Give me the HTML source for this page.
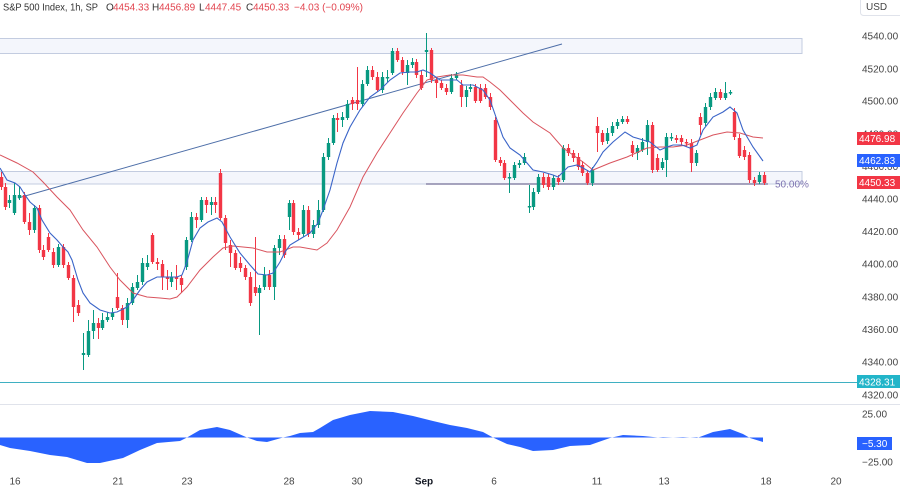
<!DOCTYPE html>
<html><head><meta charset="utf-8"><style>
html,body{margin:0;padding:0;background:#fff;}
svg{display:block;font-family:"Liberation Sans",sans-serif;}
</style></head><body>
<svg width="900" height="488" viewBox="0 0 900 488" xmlns="http://www.w3.org/2000/svg">
<rect width="900" height="488" fill="#fff"/>
<!-- zones -->
<rect x="-2" y="38.5" width="804" height="15" fill="#f4f6fc" stroke="#c3cce0" stroke-width="1"/>
<rect x="-2" y="171.5" width="804" height="12.5" fill="#f4f6fc" stroke="#c3cce0" stroke-width="1"/>
<line x1="426" y1="184" x2="768" y2="184" stroke="#8a86a8" stroke-width="1.6"/>
<text x="775" y="187.5" font-size="10" fill="#7e74b0">50.00%</text>
<!-- teal line -->
<line x1="0" y1="382.5" x2="857" y2="382.5" stroke="#3fb0c2" stroke-width="1"/>
<!-- trendline -->
<line x1="18" y1="198" x2="562" y2="44" stroke="#4d6ea8" stroke-width="1"/>
<!-- candles -->
<g transform="translate(0.5,0)">
<path fill="none" stroke="#f23645" stroke-width="1" d="M1 172V190M5 183V210M24 192V224M29 213V235M39 205V253M43 245V260M48 233V252M53 248V268M63 244V268M68 262V280M73 275V322M78 300V316M98 318V339M117 273V310M122 305V325M152 233V264M157 258V270M162 260V290M167 270V290M176 265V290M181 275V293M196 213V228M206 197V213M215 197V213M220 169V220M225 215V250M230 240V267M235 250V270M240 257V272M245 265V280M250 272V306M255 237V296M269 270V290M284 235V258M293 200V235M298 228V240M308 206V237M337 113V132M352 97V110M357 67V110M372 66V80M377 72V92M397 48V62M402 57V75M416 59V78M421 70V90M431 48V83M436 77V98M441 80V90M446 84V95M461 80V107M475 84V103M480 84V103M485 84V99M490 93V110M495 117V162M500 157V166M504 160V180M543 173V188M548 174V190M558 175V185M568 144V156M573 150V162M578 153V170M582 161V176M587 170V185M597 117V152M602 130V145M627 116V124M632 141V157M652 122V173M657 154V172M676 135V143M681 135V145M686 139V147M691 139V172M700 113V135M720 89V100M734 108V140M739 134V158M744 146V160M749 152V183M754 177V186M764 172V185"/>
<path fill="#f23645" d="M-0.7 177h3.4V187h-3.4zM3.3 187h3.4V207h-3.4zM22.3 195h3.4V222h-3.4zM27.3 222h3.4V230h-3.4zM37.3 208h3.4V250h-3.4zM41.3 250h3.4V257h-3.4zM46.3 237h3.4V250h-3.4zM51.3 252h3.4V265h-3.4zM61.3 247h3.4V265h-3.4zM66.3 265h3.4V278h-3.4zM71.3 278h3.4V307h-3.4zM76.3 305h3.4V313h-3.4zM96.3 323h3.4V328h-3.4zM115.3 297h3.4V308h-3.4zM120.3 308h3.4V320h-3.4zM150.3 235h3.4V262h-3.4zM155.3 262h3.4V264h-3.4zM160.3 264h3.4V277h-3.4zM165.3 277h3.4V279h-3.4zM174.3 277h3.4V279h-3.4zM179.3 278h3.4V285h-3.4zM194.3 217h3.4V220h-3.4zM204.3 200h3.4V205h-3.4zM213.3 202h3.4V205h-3.4zM218.3 173h3.4V218h-3.4zM223.3 218h3.4V243h-3.4zM228.3 245h3.4V253h-3.4zM233.3 253h3.4V268h-3.4zM238.3 263h3.4V268h-3.4zM243.3 268h3.4V277h-3.4zM248.3 277h3.4V303h-3.4zM253.3 287h3.4V293h-3.4zM267.3 275h3.4V287h-3.4zM282.3 239h3.4V255h-3.4zM291.3 203h3.4V232h-3.4zM296.3 232h3.4V235h-3.4zM306.3 210h3.4V234h-3.4zM335.3 118h3.4V120h-3.4zM350.3 100h3.4V104h-3.4zM355.3 100h3.4V104h-3.4zM370.3 70h3.4V77h-3.4zM375.3 77h3.4V90h-3.4zM395.3 51h3.4V60h-3.4zM400.3 60h3.4V72h-3.4zM414.3 62h3.4V75h-3.4zM419.3 75h3.4V88h-3.4zM429.3 50h3.4V80h-3.4zM434.3 80h3.4V83h-3.4zM439.3 83h3.4V88h-3.4zM444.3 88h3.4V92h-3.4zM459.3 85h3.4V97h-3.4zM473.3 87h3.4V101h-3.4zM478.3 88h3.4V101h-3.4zM483.3 88h3.4V97h-3.4zM488.3 97h3.4V107h-3.4zM493.3 120h3.4V160h-3.4zM498.3 160h3.4V163h-3.4zM502.3 163h3.4V178h-3.4zM541.3 177h3.4V185h-3.4zM546.3 177h3.4V187h-3.4zM556.3 178h3.4V182h-3.4zM566.3 148h3.4V153h-3.4zM571.3 153h3.4V158h-3.4zM576.3 157h3.4V167h-3.4zM580.3 165h3.4V173h-3.4zM585.3 173h3.4V183h-3.4zM595.3 126h3.4V133h-3.4zM600.3 133h3.4V142h-3.4zM625.3 119h3.4V122h-3.4zM630.3 145h3.4V153h-3.4zM650.3 125h3.4V170h-3.4zM655.3 158h3.4V170h-3.4zM674.3 138h3.4V140h-3.4zM679.3 138h3.4V142h-3.4zM684.3 142h3.4V143.5h-3.4zM689.3 143h3.4V163h-3.4zM698.3 117h3.4V125h-3.4zM718.3 92h3.4V98h-3.4zM732.3 112h3.4V137h-3.4zM737.3 138h3.4V156h-3.4zM742.3 150h3.4V157h-3.4zM747.3 155h3.4V180h-3.4zM752.3 180h3.4V183h-3.4zM762.3 175h3.4V183h-3.4z"/>
<path fill="none" stroke="#089981" stroke-width="1" d="M9 195V208M14 183V215M19 186V200M34 205V233M58 244V267M83 333V370M88 320V357M93 310V339M102 313V330M107 312V322M112 308V320M127 298V328M132 283V305M137 275V290M142 258V285M147 255V270M171 272V287M186 237V270M191 212V242M201 197V222M211 197V215M259 285V335M264 267V290M274 245V300M279 235V255M289 200V230M303 205V237M313 220V238M318 200V228M323 153V212M328 138V160M333 115V145M342 112V127M347 100V120M362 80V107M367 66V86M382 72V93M387 70V82M392 48V75M407 60V85M412 58V68M426 33V77M451 74V94M456 72V80M466 86V107M470 84V92M509 173V193M514 162V180M519 160V168M524 153V165M529 185V213M533 188V210M538 174V194M553 175V190M563 145V182M592 167V186M607 128V144M612 122V136M617 119V129M622 116V124M637 145V160M642 138V152M647 120V155M662 158V170M666 133V177M671 133V141M696 150V166M705 103V126M710 93V110M715 88V100M725 82V100M730 90V95M759 172V184"/>
<path fill="#089981" d="M7.3 200h3.4V203h-3.4zM12.3 195h3.4V213h-3.4zM17.3 195h3.4V198h-3.4zM32.3 208h3.4V230h-3.4zM56.3 247h3.4V265h-3.4zM81.3 353h3.4V355h-3.4zM86.3 331h3.4V355h-3.4zM91.3 323h3.4V331h-3.4zM100.3 320h3.4V328h-3.4zM105.3 317h3.4V320h-3.4zM110.3 313h3.4V317h-3.4zM125.3 303h3.4V320h-3.4zM130.3 287h3.4V303h-3.4zM135.3 282h3.4V288h-3.4zM140.3 263h3.4V282h-3.4zM145.3 263h3.4V267h-3.4zM169.3 277h3.4V282h-3.4zM184.3 240h3.4V267h-3.4zM189.3 217h3.4V240h-3.4zM199.3 200h3.4V220h-3.4zM209.3 202h3.4V205h-3.4zM257.3 288h3.4V293h-3.4zM262.3 275h3.4V287h-3.4zM272.3 248h3.4V287h-3.4zM277.3 239h3.4V248h-3.4zM287.3 203h3.4V217h-3.4zM301.3 210h3.4V234h-3.4zM311.3 225h3.4V234h-3.4zM316.3 210h3.4V225h-3.4zM321.3 157h3.4V210h-3.4zM326.3 143h3.4V157h-3.4zM331.3 118h3.4V143h-3.4zM340.3 117h3.4V120h-3.4zM345.3 104h3.4V118h-3.4zM360.3 84h3.4V104h-3.4zM365.3 70h3.4V84h-3.4zM380.3 77h3.4V90h-3.4zM385.3 77h3.4V78.5h-3.4zM390.3 51h3.4V73h-3.4zM405.3 65h3.4V73h-3.4zM410.3 62h3.4V65h-3.4zM424.3 50h3.4V52h-3.4zM449.3 78h3.4V92h-3.4zM454.3 75h3.4V78h-3.4zM464.3 90h3.4V97h-3.4zM468.3 87h3.4V89h-3.4zM507.3 177h3.4V178.5h-3.4zM512.3 165h3.4V178h-3.4zM517.3 163h3.4V165h-3.4zM522.3 157h3.4V163h-3.4zM527.3 206h3.4V207.5h-3.4zM531.3 192h3.4V207h-3.4zM536.3 177h3.4V192h-3.4zM551.3 178h3.4V187h-3.4zM561.3 148h3.4V180h-3.4zM590.3 170h3.4V183h-3.4zM605.3 133h3.4V141h-3.4zM610.3 126h3.4V133h-3.4zM615.3 122h3.4V126h-3.4zM620.3 119h3.4V122h-3.4zM635.3 148h3.4V153h-3.4zM640.3 142h3.4V150h-3.4zM645.3 125h3.4V142h-3.4zM660.3 162h3.4V168h-3.4zM664.3 137h3.4V160h-3.4zM669.3 137h3.4V138.5h-3.4zM694.3 153h3.4V163h-3.4zM703.3 107h3.4V123h-3.4zM708.3 97h3.4V107h-3.4zM713.3 92h3.4V98h-3.4zM723.3 93h3.4V98h-3.4zM728.3 92h3.4V93.5h-3.4zM757.3 175h3.4V182h-3.4z"/>
</g>
<!-- moving averages -->
<polyline fill="none" stroke="#d9545e" stroke-width="1" points="0,155 17,163 33,172 43,182 57,197 70,210 83,230 97,247 110,267 120,280 133,293 147,297 160,298 170,299 177,297 187,287 200,270 213,257 223,248 233,246 253,248 267,252 280,252 293,247 300,247 317,250 327,243 337,230 350,207 363,177 377,153 390,133 403,113 417,93 427,80 437,77 450,75 463,75 477,77 483,77 490,82 500,90 513,103 523,113 533,122 550,133 563,148 573,155 583,162 593,170 610,163 627,157 647,148 660,147 673,147 687,145 700,140 713,135 727,132 740,133 753,137 763,138"/>
<polyline fill="none" stroke="#3a64c8" stroke-width="1.1" points="0,168 7,180 15,183 20,187 25,195 30,202 37,208 42,220 50,233 57,240 63,247 68,252 72,260 78,280 83,293 90,303 100,310 110,313 117,312 127,307 133,300 140,290 147,282 157,277 167,277 177,277 182,275 187,262 193,240 200,228 208,222 217,218 222,222 230,237 240,253 250,265 258,274 267,275 273,273 280,262 285,252 290,245 300,239 310,233 318,223 323,210 330,190 337,163 343,143 350,127 360,110 370,97 380,90 390,80 400,73 410,72 417,72 423,70 430,73 440,80 450,80 457,80 463,85 473,85 483,90 490,100 497,120 503,137 510,148 520,155 527,163 533,170 543,172 553,175 558,177 563,172 568,167 577,165 583,168 590,172 597,162 603,152 613,142 625,132 633,137 643,140 650,142 660,150 667,147 673,145 682,145 690,148 697,145 703,130 713,117 723,112 730,107 737,113 743,130 753,147 763,161"/>
<!-- separator -->
<line x1="0" y1="404.5" x2="900" y2="404.5" stroke="#e0e3eb" stroke-width="1"/>
<!-- oscillator -->
<path fill="#2962ff" d="M0 437.5L0 445 10 448 30 451 50 455 67 457 87 463 100 463 123 458 140 450 157 443 180 441 187 437.5 200 430 217 427 230 430 247 437.5 257 441 267 442 283 437.5 290 436 300 433 313 432 320 428 333 420 350 415 370 411 393 412 413 416 433 421 450 425 467 428 483 432 493 437.5 507 444 520 447 533 451 553 450 570 446 590 445 610 438 623 435 643 436 663 438 683 437 697 438 713 432 730 429 743 434 750 438 763 442 763 437.5Z"/>
<!-- header -->
<g font-size="10" fill="#e2444f">
<text x="3" y="10.5" fill="#333" textLength="95" lengthAdjust="spacingAndGlyphs">S&amp;P 500 Index, 1h, SP</text>
<text x="106" y="10.5" fill="#333">O</text><text x="113" y="10.5">4454.33</text>
<text x="152" y="10.5" fill="#333">H</text><text x="159" y="10.5">4456.89</text>
<text x="199" y="10.5" fill="#333">L</text><text x="205" y="10.5">4447.45</text>
<text x="246" y="10.5" fill="#333">C</text><text x="253" y="10.5">4450.33</text>
<text x="294" y="10.5">−4.03 (−0.09%)</text>
</g>
<!-- price axis -->
<rect x="860.5" y="-4" width="45" height="19.5" rx="3" fill="#fff" stroke="#e0e3eb"/>
<text x="866" y="10" font-size="10" fill="#444">USD</text>
<g font-size="10" fill="#444">
<text x="862" y="39.5">4540.00</text>
<text x="862" y="72.5">4520.00</text>
<text x="862" y="104.5">4500.00</text>
<text x="862" y="137.5">4480.00</text>
<text x="862" y="170">4460.00</text>
<text x="862" y="202.5">4440.00</text>
<text x="862" y="235">4420.00</text>
<text x="862" y="267.5">4400.00</text>
<text x="862" y="300.5">4380.00</text>
<text x="862" y="333">4360.00</text>
<text x="862" y="365.5">4340.00</text>
<text x="862" y="398.5">4320.00</text>
<text x="862" y="417.5">25.00</text>
<text x="862" y="465.5">−25.00</text>
</g>
<rect x="857" y="132" width="43" height="13" fill="#f23645"/>
<text x="859" y="142" font-size="10" fill="#fff">4476.98</text>
<rect x="857" y="154" width="43" height="13" fill="#2962ff"/>
<text x="859" y="164" font-size="10" fill="#fff">4462.83</text>
<rect x="857" y="176" width="43" height="13" fill="#f23645"/>
<text x="859" y="186" font-size="10" fill="#fff">4450.33</text>
<rect x="857" y="375" width="43" height="13" fill="#22b5c9"/>
<text x="859" y="385.5" font-size="10" fill="#fff">4328.31</text>
<rect x="857" y="437" width="35" height="13" fill="#2962ff"/>
<text x="862" y="447" font-size="10" fill="#fff">−5.30</text>
<!-- time axis -->
<g font-size="10" fill="#444" text-anchor="middle">
<text x="15" y="484.5">16</text>
<text x="118" y="484.5">21</text>
<text x="187" y="484.5">23</text>
<text x="289" y="484.5">28</text>
<text x="357" y="484.5">30</text>
<text x="424" y="484.5" font-weight="bold" fill="#131722">Sep</text>
<text x="494" y="484.5">6</text>
<text x="597" y="484.5">11</text>
<text x="664" y="484.5">13</text>
<text x="766" y="484.5">18</text>
<text x="836" y="484.5">20</text>
</g>
</svg>
</body></html>
